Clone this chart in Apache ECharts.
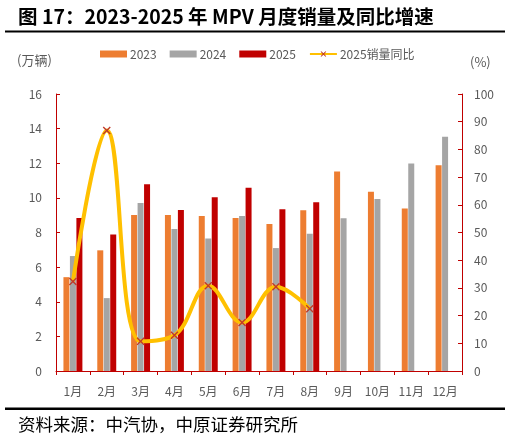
<!DOCTYPE html>
<html>
<head>
<meta charset="utf-8">
<script src="https://cdn.jsdelivr.net/npm/echarts@6/dist/echarts.min.js"></script>
<style>
html,body{margin:0;padding:0;background:#fff;}
#c{width:511px;height:440px;}
</style>
</head>
<body>
<div id="c"></div>
<script>
const months = ['1月','2月','3月','4月','5月','6月','7月','8月','9月','10月','11月','12月'];
const sales2023 = [5.42, 6.97, 9.01, 9.01, 8.95, 8.84, 8.49, 9.28, 11.52, 10.35, 9.38, 11.89];
const sales2024 = [6.64, 4.21, 9.71, 8.20, 7.66, 8.95, 7.10, 7.93, 8.82, 9.94, 11.99, 13.53];
const sales2025 = [8.84, 7.89, 10.79, 9.30, 10.03, 10.59, 9.34, 9.75];
const yoy2025 = [32.3, 86.8, 10.7, 12.9, 30.8, 17.5, 30.4, 22.5];
const leftTicks = {min: 0, max: 16, interval: 2};
const rightTicks = {min: 0, max: 100, interval: 10};

const FONT = '"Noto Sans CJK SC", "Noto Sans", sans-serif';
const AXIS_RED = '#C00000';
const LABEL_GRAY = '#595959';
const xMark = 'path://M0,1.2L1.2,0L5,3.8L8.8,0L10,1.2L6.2,5L10,8.8L8.8,10L5,6.2L1.2,10L0,8.8L3.8,5Z';

const chart = echarts.init(document.getElementById('c'), null, {renderer: 'canvas'});
chart.setOption({
  animation: false,
  textStyle: {fontFamily: FONT},
  grid: {left: 56, right: 49, top: 94, bottom: 69, containLabel: false},
  legend: {
    top: 43, left: 95,
    itemGap: 13, itemWidth: 27, itemHeight: 7,
    textStyle: {color: LABEL_GRAY, fontSize: 12, fontFamily: FONT, padding: [0,0,0,-2]},
    data: [
      {name: '2023', icon: 'rect'},
      {name: '2024', icon: 'rect'},
      {name: '2025', icon: 'rect'},
      {name: '2025销量同比'}
    ]
  },
  xAxis: {
    type: 'category',
    data: months,
    boundaryGap: true,
    axisLine: {lineStyle: {color: AXIS_RED, width: 1}},
    axisTick: {show: true, length: 4, lineStyle: {color: AXIS_RED}},
    axisLabel: {color: LABEL_GRAY, fontSize: 12, margin: 14, interval: 0}
  },
  yAxis: [
    {
      type: 'value', min: leftTicks.min, max: leftTicks.max, interval: leftTicks.interval,
      axisLine: {show: true, lineStyle: {color: AXIS_RED}},
      axisTick: {show: true, inside: true, length: 4, lineStyle: {color: AXIS_RED}},
      axisLabel: {color: LABEL_GRAY, fontSize: 12, margin: 14},
      splitLine: {show: false}
    },
    {
      type: 'value', min: rightTicks.min, max: rightTicks.max, interval: rightTicks.interval,
      position: 'right',
      axisLine: {show: true, lineStyle: {color: AXIS_RED}},
      axisTick: {show: true, inside: true, length: 4, lineStyle: {color: AXIS_RED}},
      axisLabel: {color: LABEL_GRAY, fontSize: 12, margin: 12},
      splitLine: {show: false}
    }
  ],
  series: [
    {name: '2023', type: 'bar', data: sales2023, barWidth: 6, barGap: '8%', itemStyle: {color: '#ED7D31'}},
    {name: '2024', type: 'bar', data: sales2024, barWidth: 6, barGap: '8%', itemStyle: {color: '#A5A5A5'}},
    {name: '2025', type: 'bar', data: sales2025, barWidth: 6, barGap: '8%', itemStyle: {color: '#C00000'}},
    {
      name: '2025销量同比', type: 'line', yAxisIndex: 1, data: yoy2025,
      smooth: 0.4, symbol: xMark, symbolSize: 8,
      lineStyle: {color: '#FFC000', width: 4},
      itemStyle: {color: '#C0392B'},
      z: 5
    }
  ],
  graphic: [
    {type: 'text', left: 18, top: 7, style: {text: '图 17：2023-2025 年 MPV 月度销量及同比增速', font: 'bold 19.5px ' + FONT, fill: '#000'}},
    {type: 'rect', shape: {x: 5, y: 30.5, width: 500, height: 2}, style: {fill: '#000'}},
    {type: 'text', left: 17, top: 54, style: {text: '(万辆)', font: '13px ' + FONT, fill: LABEL_GRAY}},
    {type: 'text', left: 470, top: 56, style: {text: '(%)', font: '13px ' + FONT, fill: LABEL_GRAY}},
    {type: 'rect', shape: {x: 5, y: 407.5, width: 500, height: 2.5}, style: {fill: '#000'}},
    {type: 'text', left: 18, top: 416, style: {text: '资料来源：中汽协，中原证券研究所', font: '17.5px ' + FONT, fill: '#000'}}
  ]
});
</script>
</body>
</html>
